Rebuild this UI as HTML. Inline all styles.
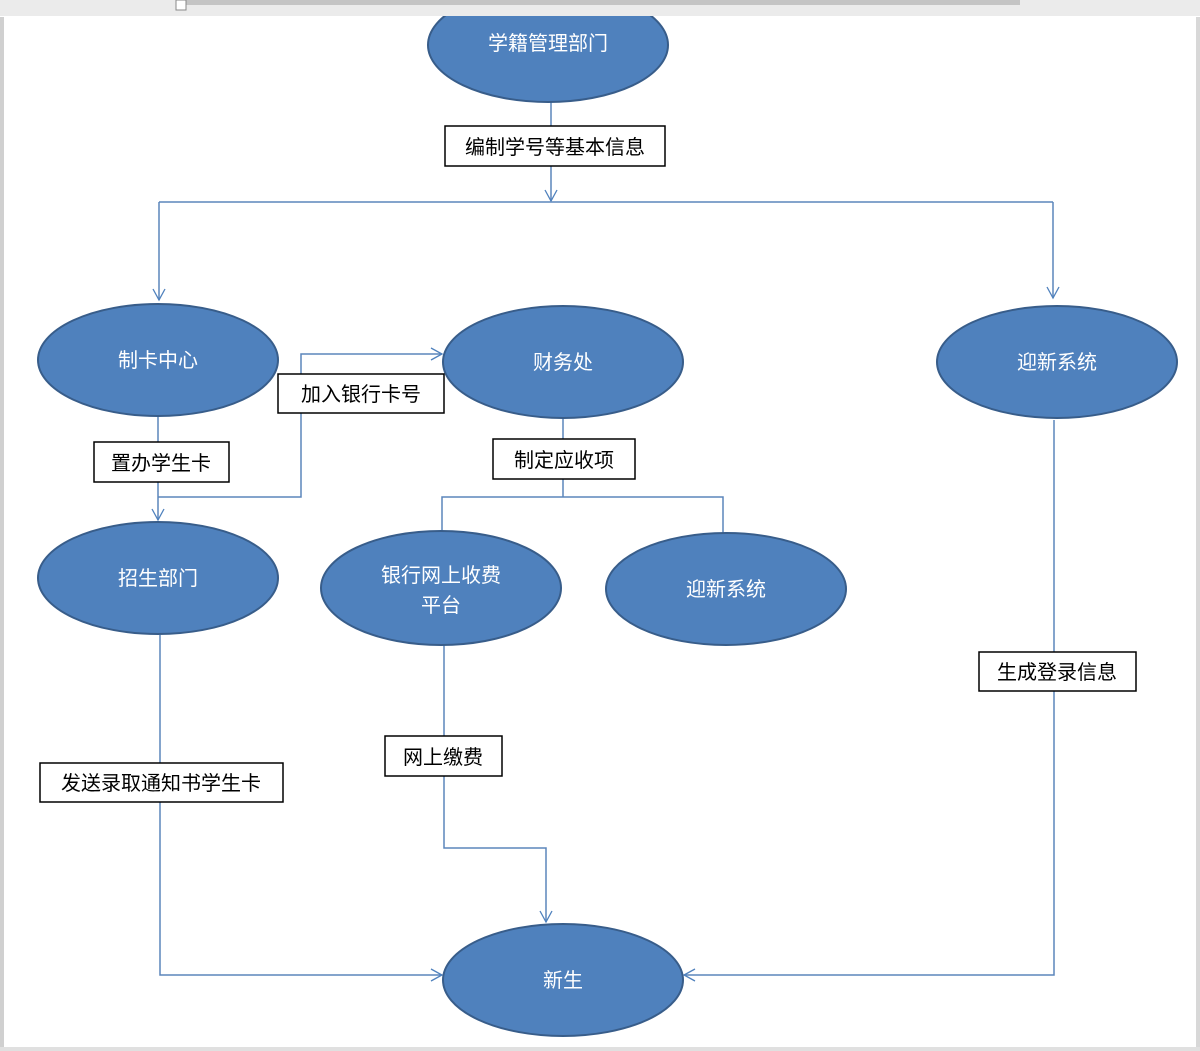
<!DOCTYPE html>
<html><head><meta charset="utf-8"><style>
html,body{margin:0;padding:0;background:#fff;}
svg{display:block;}
text{font-family:"Liberation Sans","Noto Sans CJK SC",sans-serif;}
</style></head><body>
<svg width="1200" height="1051" viewBox="0 0 1200 1051" xmlns="http://www.w3.org/2000/svg">
<rect x="0" y="0" width="1200" height="1051" fill="#fff"/>
<rect x="0" y="17" width="4" height="1034" fill="#d0d0d0"/>
<rect x="1196" y="17" width="4" height="1034" fill="#d8d8d8"/>
<rect x="0" y="1047" width="1200" height="4" fill="#e0e0e0"/>
<defs><marker id="a" markerWidth="14" markerHeight="14" refX="12" refY="7" orient="auto" markerUnits="userSpaceOnUse"><path d="M1,1 L12,7 L1,13" fill="none" stroke="#4f81bd" stroke-width="1.3"/></marker></defs>
<g fill="none" stroke="#5b85bb" stroke-width="1.5">
<path d="M551,101 V201" marker-end="url(#a)"/>
<path d="M159,202 H1053"/>
<path d="M159,202 V300" marker-end="url(#a)"/>
<path d="M1053,202 V298" marker-end="url(#a)"/>
<path d="M158,417 V520" marker-end="url(#a)"/>
<path d="M158,497 H301 V354 H442" marker-end="url(#a)"/>
<path d="M563,418 V497"/>
<path d="M442,533 V497 H723 V533"/>
<path d="M444,645 V848 H546 V922" marker-end="url(#a)"/>
<path d="M160,635 V975 H442" marker-end="url(#a)"/>
<path d="M1054,420 V975 H684" marker-end="url(#a)"/>
</g>
<g fill="#4f81bd" stroke="#385d8a" stroke-width="2">
<ellipse cx="548" cy="45" rx="120" ry="57"/>
<ellipse cx="158" cy="360" rx="120" ry="56"/>
<ellipse cx="563" cy="362" rx="120" ry="56"/>
<ellipse cx="1057" cy="362" rx="120" ry="56"/>
<ellipse cx="158" cy="578" rx="120" ry="56"/>
<ellipse cx="441" cy="588" rx="120" ry="57"/>
<ellipse cx="726" cy="589" rx="120" ry="56"/>
<ellipse cx="563" cy="980" rx="120" ry="56"/>
</g>
<rect x="0" y="0" width="1200" height="16" fill="#ebebeb"/>
<rect x="185" y="0" width="835" height="5" fill="#c4c4c4"/>
<rect x="176" y="0" width="10" height="10" fill="#fff" stroke="#888"/>
<g fill="#fff" font-size="20" text-anchor="middle">
<text x="548" y="50">学籍管理部门</text>
<text x="158" y="367">制卡中心</text>
<text x="563" y="369">财务处</text>
<text x="1057" y="369">迎新系统</text>
<text x="158" y="585">招生部门</text>
<text x="441" y="582">银行网上收费</text>
<text x="441" y="612">平台</text>
<text x="726" y="596">迎新系统</text>
<text x="563" y="987">新生</text>
</g>
<g fill="#fff" stroke="#000" stroke-width="1.5">
<rect x="445" y="126" width="220" height="40"/>
<rect x="278" y="374" width="166" height="39"/>
<rect x="94" y="442" width="135" height="40"/>
<rect x="493" y="439" width="142" height="40"/>
<rect x="385" y="736" width="117" height="40"/>
<rect x="40" y="763" width="243" height="39"/>
<rect x="979" y="652" width="157" height="39"/>
</g>
<g fill="#000" font-size="20" text-anchor="middle">
<text x="555" y="154">编制学号等基本信息</text>
<text x="361" y="401">加入银行卡号</text>
<text x="161" y="470">置办学生卡</text>
<text x="564" y="467">制定应收项</text>
<text x="443" y="764">网上缴费</text>
<text x="161" y="790">发送录取通知书学生卡</text>
<text x="1057" y="679">生成登录信息</text>
</g>
</svg>
</body></html>
